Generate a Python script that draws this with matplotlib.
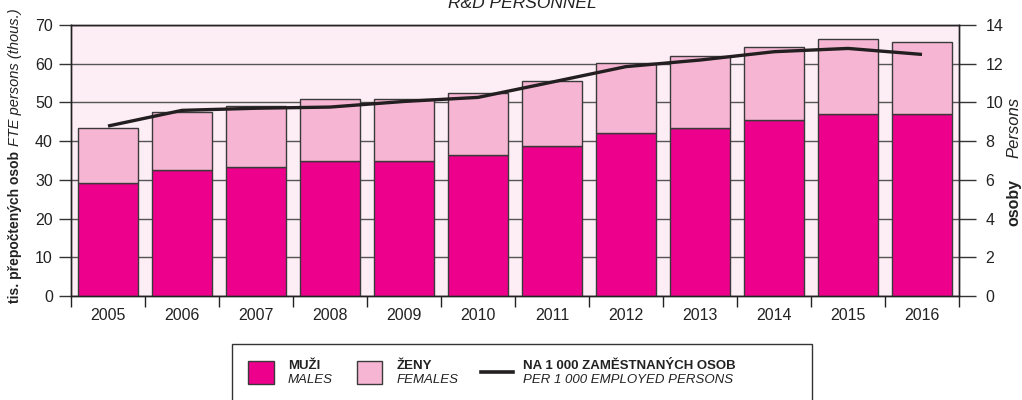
import numpy as np
import matplotlib.pyplot as plt
from matplotlib.patches import Rectangle
from matplotlib.lines import Line2D

plt.rcParams['font.family'] = ['Liberation Sans', 'DejaVu Sans']

years = ['2005', '2006', '2007', '2008', '2009', '2010',
         '2011', '2012', '2013', '2014', '2015', '2016']
males = [29.1, 32.5, 33.4, 35.0, 35.0, 36.3, 38.7, 42.1, 43.5, 45.4, 46.9, 46.9]
totals = [43.3, 47.6, 49.1, 50.8, 50.8, 52.4, 55.6, 60.3, 62.0, 64.3, 66.3, 65.7]
per_1000 = [8.78, 9.59, 9.70, 9.76, 10.05, 10.26, 11.05, 11.85, 12.19, 12.62, 12.79, 12.48]

females = [t - m for t, m in zip(totals, males)]

c_male = '#ec008c'
c_female = '#f6b6d3'
c_bg = '#fdedf4'
c_edge = '#3a3a3a'
c_line = '#231f20'
c_text = '#222222'

fig = plt.figure(figsize=(10.22, 4.0), dpi=100)
ax = fig.add_axes([71 / 1022, 104 / 400, 888 / 1022, 271 / 400])
ax.set_facecolor(c_bg)

x = np.arange(len(years))
ax.bar(x, males, width=0.81, color=c_male, edgecolor=c_edge, linewidth=1.0, zorder=3)
ax.bar(x, females, bottom=males, width=0.81, color=c_female, edgecolor=c_edge,
       linewidth=1.0, zorder=3)

ax.set_xlim(-0.5, len(years) - 0.5)
ax.set_ylim(0, 70)
ax.set_yticks(range(0, 71, 10))
ax.yaxis.grid(True, color='#555555', linewidth=1.0, zorder=1)
ax.set_axisbelow(True)

# year labels sit between the boundary ticks
ax.set_xticks(np.arange(-0.5, len(years), 1.0))
ax.set_xticklabels([])
ax.set_xticks(x, minor=True)
ax.set_xticklabels(years, minor=True)
ax.tick_params(axis='x', which='major', direction='out', length=8, width=1, color=c_text)
ax.tick_params(axis='x', which='minor', length=0, pad=9, labelsize=11.5, labelcolor=c_text)
ax.tick_params(axis='y', direction='out', length=9, width=1, color='#333333',
               labelsize=11.5, labelcolor=c_text, pad=4)

for s in ax.spines.values():
    s.set_color(c_text)
    s.set_linewidth(1.0)

ax2 = ax.twinx()
ax2.plot(x, per_1000, color=c_line, linewidth=2.4, zorder=5, solid_capstyle='butt')
ax2.set_ylim(0, 14)
ax2.set_yticks(range(0, 15, 2))
ax2.tick_params(axis='y', direction='out', length=12, width=1, color='#333333',
                labelsize=11.5, labelcolor=c_text, pad=7)
for s in ax2.spines.values():
    s.set_color(c_text)
    s.set_linewidth(1.0)

# title, partly above the top edge
fig.text(522 / 1022, 1 - 8 / 400, 'R&D PERSONNEL', ha='center', va='baseline',
         fontsize=12.5, style='italic', color=c_text)

# left axis label: Czech in bold, English in italics
fig.text(15 / 1022, 1 - 303 / 400, 'tis. přepočtených osob', rotation=90,
         ha='center', va='bottom', fontsize=10, fontweight='bold', color=c_text)
fig.text(15 / 1022, 1 - 146 / 400, 'FTE persons (thous.)', rotation=90,
         ha='center', va='bottom', fontsize=10.5, style='italic', color=c_text)

# right axis label
fig.text(1014 / 1022, 1 - 226 / 400, 'osoby', rotation=90,
         ha='center', va='bottom', fontsize=11.5, fontweight='bold', color=c_text)
fig.text(1014 / 1022, 1 - 158 / 400, 'Persons', rotation=90,
         ha='center', va='bottom', fontsize=12, style='italic', color=c_text)


def fx(px):
    return px / 1022


def fy(py):
    return 1 - py / 400


# legend box
fig.add_artist(Rectangle((fx(232), fy(405)), fx(812) - fx(232), fy(344) - fy(405),
                         transform=fig.transFigure, facecolor='white',
                         edgecolor='#333333', linewidth=1.0))
fig.add_artist(Rectangle((fx(248), fy(384)), fx(274) - fx(248), fy(361) - fy(384),
                         transform=fig.transFigure, facecolor=c_male,
                         edgecolor=c_edge, linewidth=1.0))
fig.add_artist(Rectangle((fx(357), fy(384)), fx(382) - fx(357), fy(361) - fy(384),
                         transform=fig.transFigure, facecolor=c_female,
                         edgecolor=c_edge, linewidth=1.0))
fig.add_artist(Line2D([fx(481), fx(513)], [fy(372), fy(372)],
                      transform=fig.transFigure, color=c_line, linewidth=2.6))

legend_items = [
    (288, 'MUŽI', 'MALES'),
    (397, 'ŽENY', 'FEMALES'),
    (523, 'NA 1 000 ZAMĚSTNANÝCH OSOB', 'PER 1 000 EMPLOYED PERSONS'),
]
for px, cz, en in legend_items:
    fig.text(fx(px), fy(366), cz, ha='left', va='center', fontsize=9.5,
             fontweight='bold', color=c_text)
    fig.text(fx(px), fy(380), en, ha='left', va='center', fontsize=9.5,
             style='italic', color=c_text)

fig.savefig('out.png', dpi=100)
